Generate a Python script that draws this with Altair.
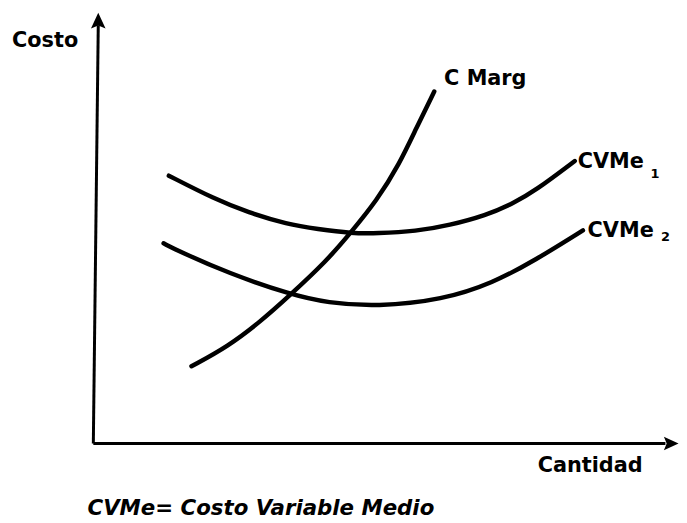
import altair as alt
import pandas as pd

# ---- data (Cantidad = q, Costo = c), origin at the axes corner ----
cmarg_q = [16.4, 22.7, 28.3, 32.9, 39.8, 43.7, 48.3, 52.2, 55.1, 58.2]
cmarg_c = [17.9, 22.5, 28.3, 33.8, 42.5, 48.7, 56.3, 64.8, 73.1, 81.6]

cvme1_q = [12.5, 20.5, 26.1, 32.9, 38.1, 44.0, 48.3, 55.1, 60.8, 67.1, 71.7, 75.6, 82.4]
cvme1_c = [62.1, 56.6, 53.6, 50.8, 49.7, 48.7, 48.7, 49.2, 50.6, 52.9, 55.6, 58.6, 65.5]

cvme2_q = [11.6, 14.2, 22.7, 33.5, 39.8, 48.3, 59.7, 68.3, 75.6, 83.8]
cvme2_c = [46.4, 44.6, 39.5, 34.5, 32.6, 31.7, 33.3, 37.2, 42.5, 49.4]

# axes
xaxis_q = [-0.5, 98.0]
xaxis_c = [0.0, 0.0]
yaxis_q = [-0.5, 0.35]
yaxis_c = [0.0, 97.0]

# labels
label_text = ["Costo", "C Marg", "CVMe", "CVMe", "Cantidad"]
label_q = [-14.5, 59.9, 82.9, 84.6, 76.0]
label_c = [93.3, 84.6, 65.3, 49.2, -5.3]

sub_text = ["1", "2"]
sub_q = [96.2, 98.0]
sub_c = [62.4, 47.9]

note_text = ["CVMe=  Costo Variable Medio"]
note_q = [-1.5]
note_c = [-15.2]

# ---- tables ----
curves = pd.concat([
    pd.DataFrame({"q": cmarg_q, "c": cmarg_c, "curve": "CMarg"}),
    pd.DataFrame({"q": cvme1_q, "c": cvme1_c, "curve": "CVMe1"}),
    pd.DataFrame({"q": cvme2_q, "c": cvme2_c, "curve": "CVMe2"}),
], ignore_index=True)

axes = pd.concat([
    pd.DataFrame({"q": xaxis_q, "c": xaxis_c, "axis": "x"}),
    pd.DataFrame({"q": yaxis_q, "c": yaxis_c, "axis": "y"}),
], ignore_index=True)

labels = pd.DataFrame({"text": label_text, "q": label_q, "c": label_c})
subs = pd.DataFrame({"text": sub_text, "q": sub_q, "c": sub_c})
notes = pd.DataFrame({"text": note_text, "q": note_q, "c": note_c})

xs = alt.Scale(domain=[-15.19, 100.34], nice=False, zero=False)
ys = alt.Scale(domain=[-17.47, 100.46], nice=False, zero=False)
X = alt.X("q:Q", scale=xs, axis=None)
Y = alt.Y("c:Q", scale=ys, axis=None)

FONT = "DejaVu Sans"

curve_layer = alt.Chart(curves).mark_line(
    color="black", strokeWidth=4.5, strokeCap="round", interpolate="basis"
).encode(x=X, y=Y, detail="curve:N", order="q:Q")

axis_layer = alt.Chart(axes).mark_line(
    color="black", strokeWidth=3
).encode(x=X, y=Y, detail="axis:N")

up_arrow = alt.Chart(pd.DataFrame({"q": [0.35], "c": [97.9]})).mark_point(
    shape="M0,-1 L0.85,0.85 L0,0.5 L-0.85,0.85 Z",
    filled=True, color="black", opacity=1, size=300
).encode(x=X, y=Y)

right_arrow = alt.Chart(pd.DataFrame({"q": [98.9], "c": [0.0]})).mark_point(
    shape="M1,0 L-0.85,0.85 L-0.5,0 L-0.85,-0.85 Z",
    filled=True, color="black", opacity=1, size=256
).encode(x=X, y=Y)

label_layer = alt.Chart(labels).mark_text(
    align="left", baseline="middle", font=FONT, fontWeight="bold",
    fontSize=21, color="black"
).encode(x=X, y=Y, text="text:N")

sub_layer = alt.Chart(subs).mark_text(
    align="center", baseline="middle", font=FONT, fontWeight="bold",
    fontSize=13, color="black"
).encode(x=X, y=Y, text="text:N")

note_layer = alt.Chart(notes).mark_text(
    align="left", baseline="middle", font=FONT, fontWeight="bold",
    fontStyle="italic", fontSize=21.5, color="black"
).encode(x=X, y=Y, text="text:N")

chart = alt.layer(
    axis_layer, up_arrow, right_arrow, curve_layer,
    label_layer, sub_layer, note_layer
).properties(
    width=677, height=513, autosize=alt.AutoSizeParams(type="none"),
    padding=0, background="white"
).configure_view(stroke=None)

chart.save("out.html", embed_options={"renderer": "svg", "actions": False})
